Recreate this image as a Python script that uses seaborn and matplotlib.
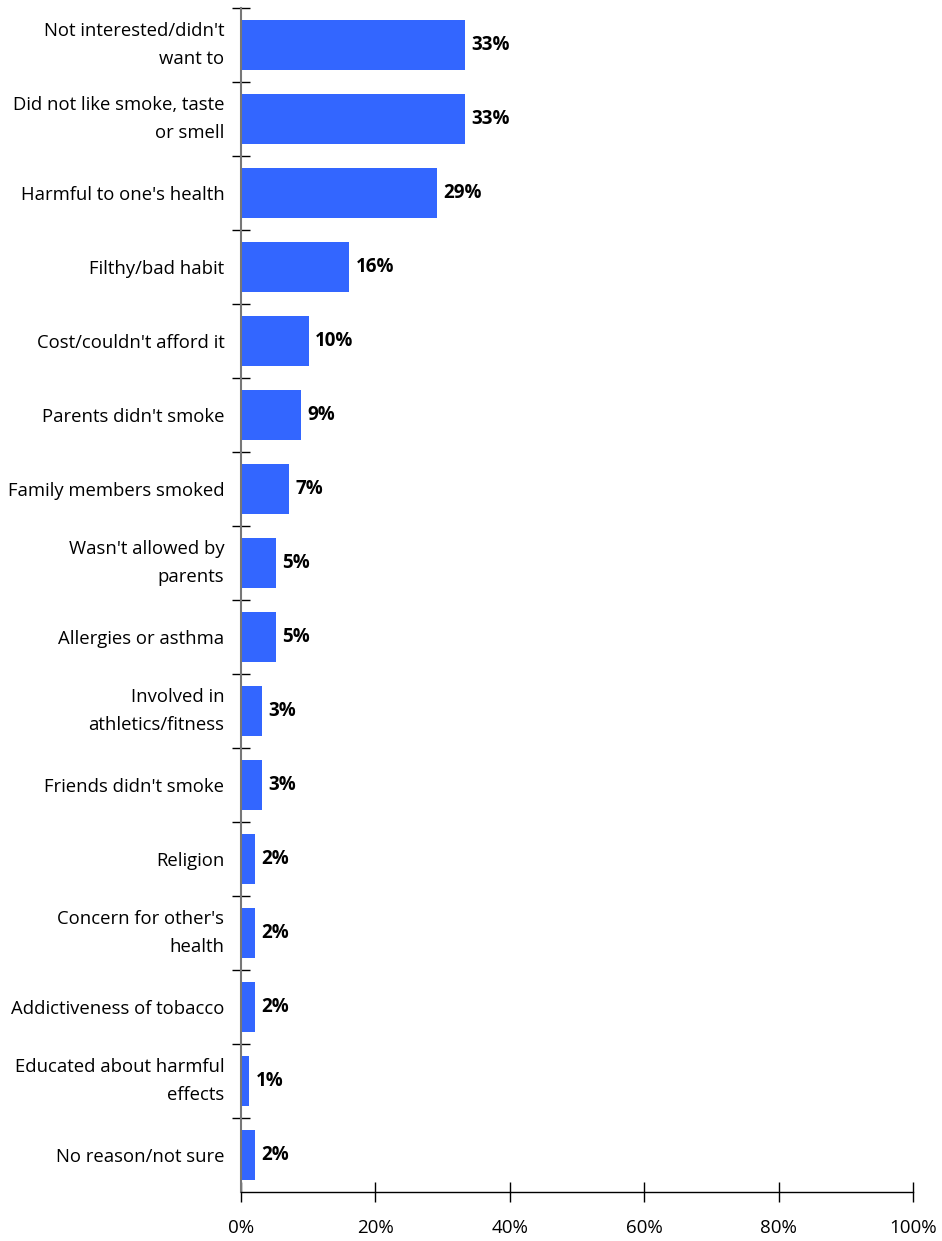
import matplotlib
matplotlib.use("Agg")
import matplotlib.pyplot as plt
import seaborn as sns
import pandas as pd
import numpy as np
from matplotlib.ticker import FixedLocator

reasons = [
    "Not interested/didn't\nwant to",
    "Did not like smoke, taste\nor smell",
    "Harmful to one's health",
    "Filthy/bad habit",
    "Cost/couldn't afford it",
    "Parents didn't smoke",
    "Family members smoked",
    "Wasn't allowed by\nparents",
    "Allergies or asthma",
    "Involved in\nathletics/fitness",
    "Friends didn't smoke",
    "Religion",
    "Concern for other's\nhealth",
    "Addictiveness of tobacco",
    "Educated about harmful\neffects",
    "No reason/not sure",
]
values = [33.3, 33.3, 29.2, 16.1, 10.1, 9.0, 7.2, 5.2, 5.2, 3.1, 3.1, 2.1, 2.1, 2.1, 1.2, 2.1]
value_labels = ["33%", "33%", "29%", "16%", "10%", "9%", "7%", "5%", "5%", "3%", "3%", "2%", "2%", "2%", "1%", "2%"]
xticks = [0, 20, 40, 60, 80, 100]
xtick_labels = ["0%", "20%", "40%", "60%", "80%", "100%"]

sns.set_style("white")
plt.rcParams['font.family'] = ['Open Sans', 'DejaVu Sans']
plt.rcParams['text.color'] = 'black'
plt.rcParams['xtick.color'] = 'black'
plt.rcParams['ytick.color'] = 'black'

df = pd.DataFrame({"reason": reasons, "value": values})

fig = plt.figure(figsize=(9.42, 12.41), dpi=100)
top_px, bot_px, left_px, right_px = 8, 1192, 241, 913
ax = fig.add_axes([left_px/942, 1 - bot_px/1241, (right_px-left_px)/942, (bot_px-top_px)/1241])

sns.barplot(data=df, x="value", y="reason", orient="h", color="#3366FF",
            saturation=1, width=0.68, ax=ax, edgecolor="none")

ax.set_xlim(0, 100)
ax.set_ylim(len(reasons) - 0.5, -0.5)
ax.set_xlabel("")
ax.set_ylabel("")

for i, (v, lab) in enumerate(zip(values, value_labels)):
    ax.text(v + 0.95, i, lab, va="center", ha="left", fontsize=13.5,
            fontweight="bold", color="black")

# y ticks at category boundaries
ax.yaxis.set_minor_locator(FixedLocator(np.arange(-0.5, len(reasons) - 0.5, 1)))
ax.tick_params(axis="y", which="major", length=0, pad=12, labelsize=13.3, labelcolor="black")
ax.tick_params(axis="y", which="minor", direction="inout", length=13, width=1, color="black", left=True)
for t in ax.get_yticklabels():
    t.set_linespacing(1.75)
    t.set_ha("right")
    if "\n" in t.get_text():
        t.set_va("center")

ax.set_xticks(xticks)
ax.set_xticklabels(xtick_labels)
ax.tick_params(axis="x", which="major", direction="inout", length=15, width=1, color="black",
               bottom=True, pad=12, labelsize=13.5, labelcolor="black")

for s in ["top", "right"]:
    ax.spines[s].set_visible(False)
ax.spines["left"].set_color("#777777")
ax.spines["left"].set_linewidth(1.5)
ax.spines["bottom"].set_color("black")
ax.spines["bottom"].set_linewidth(1)

fig.savefig("out.png", dpi=100, facecolor="white")
